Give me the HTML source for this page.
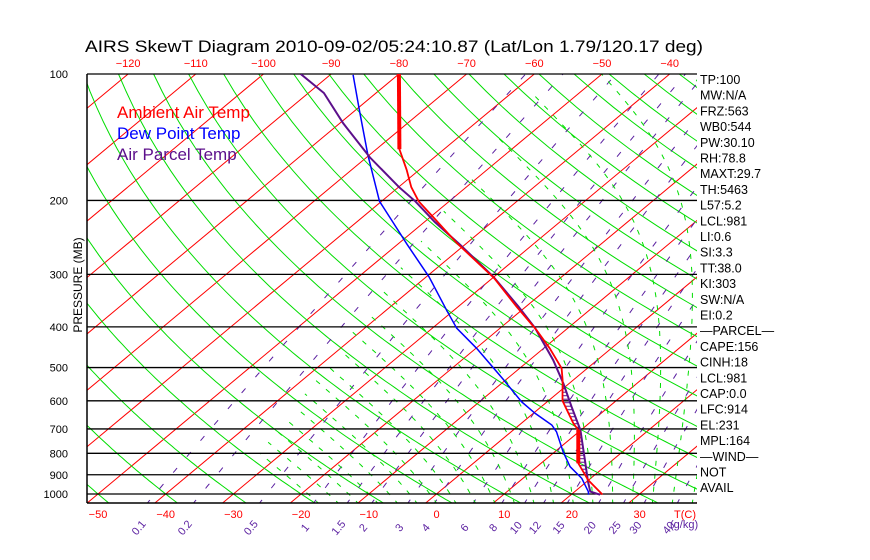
<!DOCTYPE html>
<html><head><meta charset="utf-8"><style>
body{margin:0;background:#fff;}
svg{display:block;font-family:"Liberation Sans",sans-serif;}
</style></head><body>
<svg id="chart" width="870" height="560" viewBox="0 0 870 560" xmlns="http://www.w3.org/2000/svg">
<defs><clipPath id="plotclip"><rect x="87" y="74" width="610" height="429"/></clipPath>
<clipPath id="moistclip"><polygon points="548,74 697,74 697,503 222,503"/></clipPath></defs>
<rect width="870" height="560" fill="#fff"/>
<text x="85" y="52" font-size="16.5" fill="#000" textLength="618" lengthAdjust="spacingAndGlyphs">AIRS SkewT Diagram 2010-09-02/05:24:10.87 (Lat/Lon 1.79/120.17 deg)</text>
<g id="bg" clip-path="url(#plotclip)"></g>
<g id="moist" clip-path="url(#moistclip)"></g>
<g id="grid"></g>
<g id="series" clip-path="url(#plotclip)"></g>
<g id="labels"></g>
<text transform="translate(82,285) rotate(-90)" text-anchor="middle" font-size="12" fill="#000">PRESSURE (MB)</text>
<text x="117" y="118" font-size="17" fill="#ff0000">Ambient Air Temp</text>
<text x="117" y="139" font-size="17" fill="#0000ff">Dew Point Temp</text>
<text x="117" y="160" font-size="17" fill="#5c0f8b">Air Parcel Temp</text>
</svg>
<script>
const pressureLevels=[100,200,300,400,500,600,700,800,900,1000];
const bottomTempTicks=[-50,-40,-30,-20,-10,0,10,20,30];
const topTempTicks=[-120,-110,-100,-90,-80,-70,-60,-50,-40];
const mixingRatios=[0.1,0.2,0.5,1,1.5,2,3,4,6,8,10,12,15,20,25,30,40];
const mixingLabels=["0.1","0.2","0.5","1","1.5","2","3","4","6","8","10","12","15","20","25","30","40"];
const tempP=[100,151,169,186,201,219,253,306,358,407,450,502,535,600,679,704,845,926,1003];
const tempT=[-80,-66.6,-61.9,-58.1,-54.5,-49.6,-41.4,-29.8,-21.4,-14.3,-9.1,-3.8,-1.6,2.1,7.7,9.6,15.5,19.9,24.6];
const dewP=[100.5,122,156,201,225,255,304,365,403,450,535,603,643,685,711,793,861,918,987,1004];
const dewT=[-86.6,-79.4,-70.2,-60.3,-54.7,-48.5,-39.6,-31.1,-26.4,-19.9,-10.3,-3.8,0.3,4.8,6.7,11.2,14.9,18.7,22.0,22.6];
const parcelP=[100,111,131,158,186,201,225,255,304,358,403,480,545,620,704,830,935,987,1004];
const parcelT=[-94.5,-87.7,-79.5,-69.5,-59.9,-55,-48.5,-40.7,-30.1,-21.1,-14.8,-6.5,-0.9,4.5,9.9,15.9,20.2,22.3,24.3];
const indexLabels=["TP:100","MW:N/A","FRZ:563","WB0:544","PW:30.10","RH:78.8","MAXT:29.7","TH:5463","L57:5.2","LCL:981","LI:0.6","SI:3.3","TT:38.0","KI:303","SW:N/A","EI:0.2","\u2014PARCEL\u2014","CAPE:156","CINH:18","LCL:981","CAP:0.0","LFC:914","EL:231","MPL:164","\u2014WIND\u2014","NOT","AVAIL"];

const NS="http://www.w3.org/2000/svg";
function Y(p){return 74+182.4*Math.log(p/100);}
function X(T,p){return 98+(T+50)*6.77+1.2*(494-Y(p));}
function mk(tag,attrs,parent){const e=document.createElementNS(NS,tag);for(const k in attrs)e.setAttribute(k,attrs[k]);parent.appendChild(e);return e;}
function pts(arr){return arr.map(a=>a[0].toFixed(1)+","+a[1].toFixed(1)).join(" ");}
const bg=document.getElementById('bg'),moist=document.getElementById('moist'),grid=document.getElementById('grid'),series=document.getElementById('series'),labels=document.getElementById('labels');
const P0=1060,P1=95;
for(let T=-140;T<=50;T+=10){
  const l=mk('line',{x1:X(T,P0),y1:Y(P0),x2:X(T,P1),y2:Y(P1),stroke:'#ff0000','stroke-width':1},bg);
  
  
}
for(let th=-60;th<=200;th+=10){
  const a=[];
  for(let p=P0;p>=P1;p-=10){const T=(th+273.15)*Math.pow(p/1000,0.286)-273.15;a.push([X(T,p),Y(p)]);}
  const l=mk('polyline',{points:pts(a),fill:'none',stroke:'#00dd00','stroke-width':1},bg);
  
  
}
function es(Tc){return 6.112*Math.exp(17.67*Tc/(Tc+243.5));}
function dTdp(Tk,p){const e=es(Tk-273.15);const rs=0.622*e/(p-e);return (287*Tk+2.5e6*rs)/(p*(1005+2.5e6*2.5e6*rs*0.622/(287*Tk*Tk)));}
for(let tw=-19;tw<=41;tw+=3){
  const a=[];let Tk=tw+273.15;
  let Td=Tk;for(let p=1000;p<P0;p+=5){Td+=dTdp(Td,p)*5;}
  Tk=Td;
  for(let p=P0;p>=P1;p-=5){a.push([X(Tk-273.15,p),Y(p)]);Tk-=dTdp(Tk,p)*5;}
  const l=mk('polyline',{points:pts(a),fill:'none',stroke:'#00dd00','stroke-width':1,'stroke-dasharray':'5 8'},moist);
  
  
}
function tdFromW(w,p){const e=w*p/(622+w);const g=Math.log(e/6.112);return 243.5*g/(17.67-g);}
mixingRatios.forEach((w,i)=>{
  const a=[];for(let p=P0;p>=P1;p-=10){a.push([X(tdFromW(w,p),p),Y(p)]);}
  const l=mk('polyline',{points:pts(a),fill:'none',stroke:'#5a1fa0','stroke-width':1,'stroke-dasharray':'6 15'},bg);
  
  
  const xb=X(tdFromW(w,1050),1050)-6;
  const t=mk('text',{x:xb,y:530,'font-size':11,fill:'#5a1fa0','text-anchor':'middle',transform:`rotate(-50 ${xb} 530)`},labels);
  t.textContent=mixingLabels[i];
  
  
});
pressureLevels.forEach(p=>{
  const l=mk('line',{x1:87,y1:Y(p),x2:697,y2:Y(p),stroke:'#000','stroke-width':1.3},grid);
  
  
  const t=mk('text',{x:68,y:Y(p)+4,'font-size':11,fill:'#000','text-anchor':'end'},labels);
  t.textContent=p;
  
  
});
const lb=mk('line',{x1:87,y1:74,x2:87,y2:503,stroke:'#000','stroke-width':1.5},grid);


const bb=mk('line',{x1:87,y1:503,x2:697,y2:503,stroke:'#000','stroke-width':1.5},grid);


bottomTempTicks.forEach(T=>{
  const t=mk('text',{x:X(T,1000),y:518,'font-size':11,fill:'#ff0000','text-anchor':'middle'},labels);
  t.textContent=T<0?'\u2212'+(-T):T;
  
  
});
const tc=mk('text',{x:685,y:518,'font-size':11,fill:'#ff0000','text-anchor':'middle'},labels);
tc.textContent='T(C)';


const gk=mk('text',{x:670,y:528,'font-size':11,fill:'#5a1fa0'},labels);
gk.textContent='(g/kg)';


topTempTicks.forEach(T=>{
  const t=mk('text',{x:X(T,100),y:67,'font-size':11,fill:'#ff0000','text-anchor':'middle'},labels);
  t.textContent='\u2212'+(-T);
  
  
});
indexLabels.forEach((s,i)=>{
  const t=mk('text',{x:700,y:84+i*15.7,'font-size':12.5,fill:'#000'},labels);
  t.textContent=s;
  
  
});
function curve(P,T){return P.map((p,i)=>[X(T[i],p),Y(p)]);}
const tc_=curve(tempP,tempT),dc=curve(dewP,dewT),pc=curve(parcelP,parcelT);
function interpX(c,y){for(let i=0;i<c.length-1;i++){const a=c[i],b=c[i+1];if(y>=a[1]&&y<=b[1]){const f=(y-a[1])/(b[1]-a[1]||1);return a[0]+f*(b[0]-a[0]);}}return null;}
for(let y=Y(520);y<=Y(960);y+=3.5){
  const xt=interpX(tc_,y),xp=interpX(pc,y);
  if(xt!==null&&xp!==null&&xp>xt+0.8){
    const h=mk('line',{x1:xt,y1:y,x2:xp,y2:y,stroke:'#5c0f8b','stroke-width':1},series);
    
    
  }
}
const dl=mk('polyline',{points:pts(dc),fill:'none',stroke:'#0000ff','stroke-width':1.5},series);


const pl=mk('polyline',{points:pts(pc),fill:'none',stroke:'#5c0f8b','stroke-width':2},series);


const tl=mk('polyline',{points:pts(tc_),fill:'none',stroke:'#ff0000','stroke-width':1.8},series);


const tk1=mk('polyline',{points:pts(tc_.slice(0,2)),fill:'none',stroke:'#ff0000','stroke-width':4},series);


const tk2=mk('polyline',{points:pts(tc_.slice(15,17)),fill:'none',stroke:'#ff0000','stroke-width':4},series);


</script>
</body></html>
